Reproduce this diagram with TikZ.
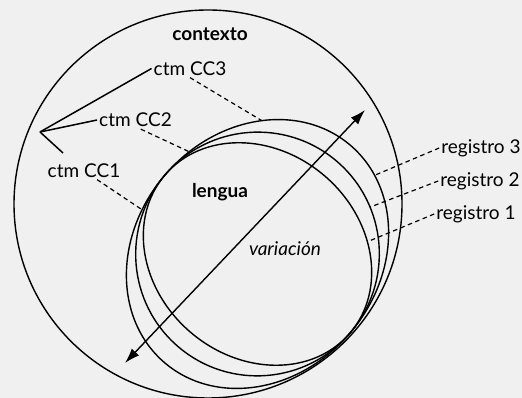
\documentclass[tikz,border=0pt]{standalone}
\usepackage{fontspec}
\setmainfont{Lato}
\usetikzlibrary{arrows.meta,calc}

\begin{document}
\begin{tikzpicture}[x=1pt, y=1pt,
  lbl/.style={font=\fontsize{19}{22}\selectfont, inner sep=2pt},
  ring/.style={line width=1.4pt},
  link/.style={line width=1.2pt, dash pattern=on 4.5pt off 3.5pt},
  fanline/.style={line width=1.5pt},
  arrow/.style={{Latex[length=15pt,width=10pt]}-{Latex[length=15pt,width=10pt]}, line width=1.4pt}
]
\fill[black!6] (0,0) rectangle (522,398);
\useasboundingbox (0,0) rectangle (522,398);

% contexto
\draw[ring] (208,194) circle (194);

% lengua and its three registers
\begin{scope}[shift={(257.5,144)}, rotate=-40.5]
  \draw[ring] (0,0) ellipse (121.7 and 103);
  \draw[ring] (0,0) ellipse (121.7 and 122);
  \draw[ring] (0,0) ellipse (121.7 and 143);
  \coordinate (r1pt) at (75.6,80.7);
  \coordinate (r2pt) at (55,108.5);
  \coordinate (r3pt) at (38,136);
  \coordinate (c1pt) at (-116.5,-41.3);
  \coordinate (c2pt) at (-118.3,33.4);
  \coordinate (c3pt) at (-83.3,104.2);
\end{scope}

\node[lbl] (ctx) at (210,363.5) {\bfseries contexto};
\node[lbl] (cc3) at (190,329.5) {ctm CC3};
\node[lbl] (cc2) at (135.5,278) {ctm CC2};
\node[lbl] (cc1) at (84,227.5) {ctm CC1};
\node[lbl] (len) at (220,205.5) {\bfseries lengua};
\node[lbl] (var) at (285,149) {\itshape variación};
\node[lbl] (reg3) at (481,250) {registro 3};
\node[lbl] (reg2) at (480,217) {registro 2};
\node[lbl] (reg1) at (476,184) {registro 1};

\coordinate (fan) at (40,266);
\coordinate (fan1) at (63,245);
\coordinate (vlo) at (125,35);
\coordinate (vhi) at (365,288);

\draw[fanline] (fan) -- (cc3.west);
\draw[fanline] (fan) -- (cc2.west);
\draw[fanline] (fan) -- (fan1);

\draw[link] (cc3.south) -- (c3pt);
\draw[link] (cc2.-60) -- (c2pt);
\draw[link] (cc1.-35) -- (c1pt);

\draw[link] (reg3.west) -- (r3pt);
\draw[link] (reg2.west) -- (r2pt);
\draw[link] (reg1.west) -- (r1pt);

\draw[arrow] (vlo) -- (vhi);
\end{tikzpicture}
\end{document}
